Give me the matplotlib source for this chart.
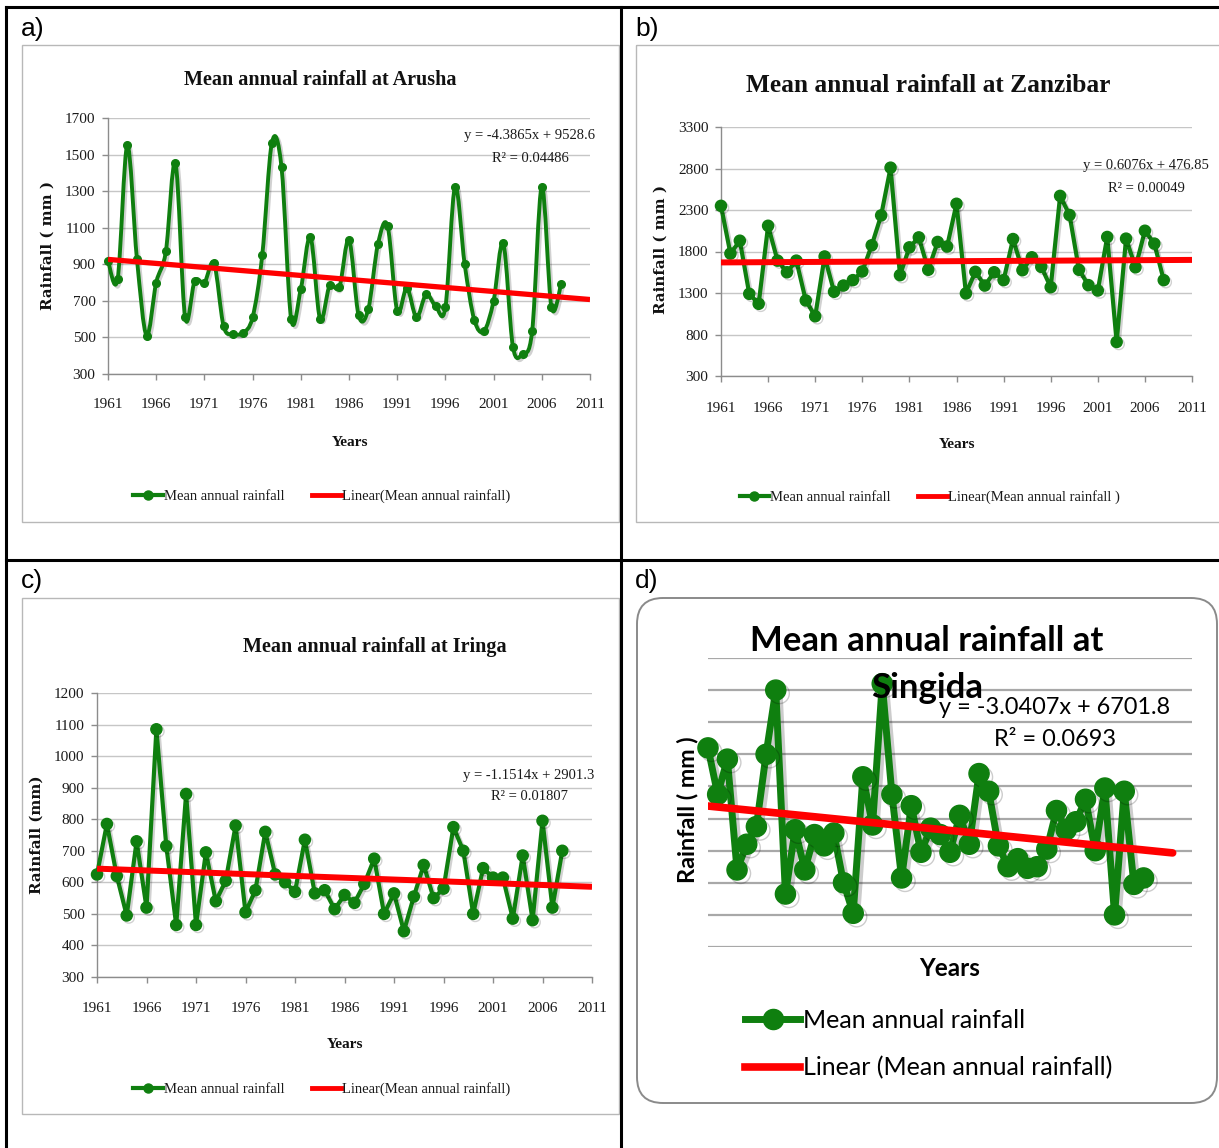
import numpy as np
import matplotlib
matplotlib.use("Agg")
import matplotlib.pyplot as plt
import matplotlib.transforms as mtransforms
import matplotlib.patheffects as pe
from matplotlib.path import Path
from matplotlib.patches import PathPatch, Rectangle, FancyBboxPatch
from matplotlib.lines import Line2D

# ---------------- data ----------------
years_48 = list(range(1961, 2009))
years_46 = list(range(1961, 2007))
year_ticks = list(range(1961, 2012, 5))

rain_arusha = [920, 820, 1550, 930, 510, 800, 970, 1455, 610, 810,
               800, 905, 560, 520, 525, 610, 950, 1565, 1430, 600,
               765, 1050, 600, 785, 775, 1035, 620, 655, 1010, 1110,
               645, 770, 610, 735, 670, 665, 1325, 900, 595, 535,
               700, 1015, 450, 410, 535, 1325, 665, 790]
rain_zanzibar = [2350, 1775, 1930, 1290, 1170, 2110, 1690, 1550, 1690, 1210,
                 1020, 1740, 1315, 1390, 1455, 1560, 1875, 2235, 2810, 1515,
                 1850, 1970, 1580, 1915, 1860, 2375, 1295, 1555, 1390, 1550,
                 1455, 1950, 1575, 1730, 1615, 1370, 2470, 2240, 1580, 1395,
                 1330, 1975, 710, 1955, 1610, 2050, 1895, 1455]
rain_iringa = [625, 785, 620, 495, 730, 520, 1085, 715, 465, 880,
               465, 695, 540, 605, 780, 505, 575, 760, 625, 600,
               570, 735, 565, 575, 515, 560, 535, 595, 675, 500,
               565, 445, 555, 655, 550, 580, 775, 700, 500, 645,
               615, 615, 485, 685, 480, 795, 520, 700]
rain_singida = [920, 775, 885, 540, 620, 675, 900, 1100, 465, 665,
                540, 650, 615, 655, 500, 405, 830, 680, 1120, 775,
                515, 740, 595, 670, 650, 595, 710, 620, 840, 785,
                615, 550, 575, 545, 550, 605, 725, 665, 690, 760,
                600, 795, 400, 785, 495, 515]

# trend-line equations shown on the charts (slope, intercept)
trend_arusha = (-4.3865, 9528.6)
trend_zanzibar = (0.6076, 476.85)
trend_iringa = (-1.1514, 2901.3)
trend_singida = (-3.0407, 6701.8)
trend_span_abc = (1961, 2011)
trend_span_d = (1961, 2009)

yticks_arusha = list(range(300, 1701, 200))
yticks_zanzibar = list(range(300, 3301, 500))
yticks_iringa = list(range(300, 1201, 100))
ygrid_singida = list(range(300, 1201, 100))

eq_texts = ["y = -4.3865x + 9528.6", "y = 0.6076x + 476.85",
            "y = -1.1514x + 2901.3", "y = -3.0407x + 6701.8"]
r2_texts = ["R\u00b2 = 0.04486", "R\u00b2 = 0.00049", "R\u00b2 = 0.01807", "R\u00b2 = 0.0693"]

# ---------------- figure ----------------
W, H = 1219, 1148
fig = plt.figure(figsize=(W / 100, H / 100), dpi=100)
fig.patch.set_facecolor("white")
pxT = mtransforms.Affine2D().scale(1.0 / W, -1.0 / H).translate(0, 1) + fig.transFigure

GREEN = "#0f7f0f"
RED = "#ff0000"
SERIF = "Liberation Serif"
SERIF_B = "DejaVu Serif"
CAL = "Lato"
FS = 10.5


def add_ax(l, t, r, b):
    return fig.add_axes([l / W, 1 - b / H, (r - l) / W, (b - t) / H])


def smooth_path(x, y):
    x = np.asarray(x, float)
    y = np.asarray(y, float)
    n = len(x)
    verts = [(x[0], y[0])]
    codes = [Path.MOVETO]
    for i in range(n - 1):
        x0, y0 = (x[i - 1], y[i - 1]) if i > 0 else (x[i], y[i])
        x3, y3 = (x[i + 2], y[i + 2]) if i + 2 < n else (x[i + 1], y[i + 1])
        c1 = (x[i] + (x[i + 1] - x0) / 6.0, y[i] + (y[i + 1] - y0) / 6.0)
        c2 = (x[i + 1] - (x3 - x[i]) / 6.0, y[i + 1] - (y3 - y[i]) / 6.0)
        verts += [c1, c2, (x[i + 1], y[i + 1])]
        codes += [Path.CURVE4] * 3
    return Path(verts, codes)


shadow = [pe.SimpleLineShadow(offset=(1.5, -1.5), shadow_color="k", alpha=0.18), pe.Normal()]

# ---------------- table lines and chart frames ----------------
for (x0, y0, x1, y1) in [(6, 7, 1219, 7), (6, 7, 6, 1148), (621, 7, 621, 1148), (6, 560, 1219, 560)]:
    fig.add_artist(Line2D([x0, x1], [y0, y1], transform=pxT, color="black", lw=2.2))

for (x0, y0, x1, y1) in [(22, 45, 619, 522), (636, 45, 1222, 522), (22, 598, 619, 1114)]:
    fig.add_artist(Rectangle((x0, y0), x1 - x0, y1 - y0, transform=pxT, fill=False,
                             edgecolor="#b8b8b8", lw=1.0))
fig.add_artist(FancyBboxPatch((637, 598), 580, 505, boxstyle="round,pad=0,rounding_size=26",
                              transform=pxT, fill=False, edgecolor="#8a8a8a", lw=1.4))

for lab, (x, y) in zip(["a)", "b)", "c)", "d)"], [(21, 29), (635, 29), (21, 581), (635, 581)]):
    fig.text(x, y, lab, transform=pxT, fontsize=19, family="Liberation Sans",
             ha="left", va="center")


# ---------------- panels a, b, c ----------------
def style_abc(ax, ymin, ymax, yticks, xpad, ypad):
    ax.set_xlim(1961, 2011)
    ax.set_ylim(ymin, ymax)
    ax.set_xticks(year_ticks)
    ax.set_yticks(yticks)
    for s in ["top", "right"]:
        ax.spines[s].set_visible(False)
    for s in ["left", "bottom"]:
        ax.spines[s].set_color("#8c8c8c")
        ax.spines[s].set_linewidth(1.0)
    ax.yaxis.grid(True, color="#c6c6c6", lw=1.0)
    ax.set_axisbelow(True)
    ax.tick_params(axis="both", direction="out", length=4, width=1, color="#8c8c8c",
                   labelsize=11, labelcolor="#1a1a1a")
    ax.tick_params(axis="x", pad=xpad)
    ax.tick_params(axis="y", pad=ypad)
    for t in ax.get_xticklabels() + ax.get_yticklabels():
        t.set_family(SERIF)
    ax.patch.set_alpha(0)


panels_abc = [
    dict(box=(108, 118, 590, 374), years=years_48, rain=rain_arusha, trend=trend_arusha,
         ylim=(300, 1700), yticks=yticks_arusha, smooth=True, ms=5.5, lw=2.8, tlw=3.8,
         title="Mean annual rainfall at Arusha", tpos=(320, 80), tsize=14.5,
         ylab="Rainfall ( mm )", ylpos=(48, 245), eqpos=(530, 135), r2pos=(530, 158),
         ypos=(350, 443), legpos=(322, 496), leg2="Linear(Mean annual rainfall)", xpad=13),
    dict(box=(721, 127, 1192, 376), years=years_48, rain=rain_zanzibar, trend=trend_zanzibar,
         ylim=(300, 3300), yticks=yticks_zanzibar, smooth=False, ms=8, lw=3.0, tlw=4.3,
         title="Mean annual rainfall at Zanzibar", tpos=(928, 85), tsize=18.3,
         ylab="Rainfall ( mm )", ylpos=(661, 250), eqpos=(1146, 165), r2pos=(1146, 188),
         ypos=(957, 444), legpos=(930, 497), leg2="Linear(Mean annual rainfall )", xpad=15),
    dict(box=(97, 693, 592, 977), years=years_48, rain=rain_iringa, trend=trend_iringa,
         ylim=(300, 1200), yticks=yticks_iringa, smooth=False, ms=8, lw=3.0, tlw=4.3,
         title="Mean annual rainfall at Iringa", tpos=(375, 647), tsize=14.5,
         ylab="Rainfall (mm)", ylpos=(37, 835), eqpos=(529, 775), r2pos=(529, 797),
         ypos=(345, 1044), legpos=(322, 1089), leg2="Linear(Mean annual rainfall)", xpad=14),
]

for i, p in enumerate(panels_abc):
    ax = add_ax(*p["box"])
    style_abc(ax, p["ylim"][0], p["ylim"][1], p["yticks"], p["xpad"], 5)
    if p["smooth"]:
        ax.add_patch(PathPatch(smooth_path(p["years"], p["rain"]), fill=False,
                               edgecolor=GREEN, lw=p["lw"], capstyle="round",
                               joinstyle="round", path_effects=shadow, clip_on=False, zorder=3))
        ax.plot(p["years"], p["rain"], ls="none", marker="o", ms=p["ms"], color=GREEN,
                clip_on=False, zorder=4)
    else:
        ax.plot(p["years"], p["rain"], ls="-", lw=p["lw"], marker="o", ms=p["ms"],
                color=GREEN, clip_on=False, zorder=3, path_effects=shadow,
                solid_joinstyle="round")
    tx = np.array(trend_span_abc, float)
    ax.plot(tx, p["trend"][0] * tx + p["trend"][1], color=RED, lw=p["tlw"],
            solid_capstyle="butt", zorder=5)

    fig.text(*p["tpos"], p["title"], transform=pxT, fontsize=p["tsize"], family=SERIF,
             weight="bold", ha="center", va="center", color="#111111")
    fig.text(*p["ylpos"], p["ylab"], transform=pxT, fontsize=10.8, family=SERIF_B,
             weight="bold", rotation=90, ha="center", va="center", color="#111111")
    fig.text(*p["eqpos"], eq_texts[i], transform=pxT, fontsize=FS, family=SERIF,
             ha="center", va="center", color="#1a1a1a")
    fig.text(*p["r2pos"], r2_texts[i], transform=pxT, fontsize=FS, family=SERIF,
             ha="center", va="center", color="#1a1a1a")
    fig.text(*p["ypos"], "Years", transform=pxT, fontsize=11, family=SERIF,
             weight="bold", ha="center", va="center", color="#111111")
    h1 = Line2D([], [], color=GREEN, lw=3.0, marker="o", ms=6.5)
    h2 = Line2D([], [], color=RED, lw=3.5)
    fig.legend([h1, h2], ["Mean annual rainfall", p["leg2"]], loc="center",
               bbox_to_anchor=p["legpos"], bbox_transform=pxT, ncol=2, frameon=False,
               prop=dict(family=SERIF, size=FS), handlelength=2.0, handletextpad=0.1,
               columnspacing=1.85, borderpad=0, borderaxespad=0, labelcolor="#1a1a1a")

# ---------------- panel d ----------------
axd = add_ax(708, 658, 1192, 947)
axd.set_xlim(1961, 2011)
axd.set_ylim(300, 1200)
axd.set_yticks(ygrid_singida)
axd.set_xticks([])
axd.tick_params(axis="y", length=0, labelleft=False)
for s in axd.spines.values():
    s.set_visible(False)
axd.yaxis.grid(True, color="#a8a8a8", lw=1.6)
axd.set_axisbelow(True)
axd.patch.set_alpha(0)
shadow_d = [pe.SimpleLineShadow(offset=(2.5, -2.5), shadow_color="k", alpha=0.2), pe.Normal()]
axd.plot(years_46, rain_singida, ls="-", lw=5.0, marker="o", ms=14.5, color=GREEN,
         clip_on=False, zorder=3, path_effects=shadow_d, solid_joinstyle="round")
txd = np.array(trend_span_d, float)
axd.plot(txd, trend_singida[0] * txd + trend_singida[1], color=RED, lw=5.5,
         solid_capstyle="round", zorder=5)

fig.text(927, 641, "Mean annual rainfall at", transform=pxT, fontsize=25, family=CAL,
         weight="bold", ha="center", va="center", color="black")
fig.text(927, 688, "Singida", transform=pxT, fontsize=25, family=CAL,
         weight="bold", ha="center", va="center", color="black")
fig.text(1055, 707, eq_texts[3], transform=pxT, fontsize=16.9, family=CAL,
         ha="center", va="center", color="black")
fig.text(1055, 740, r2_texts[3], transform=pxT, fontsize=16.9, family=CAL,
         ha="center", va="center", color="black")
fig.text(688, 810, "Rainfall ( mm )", transform=pxT, fontsize=16.8, family=CAL,
         weight="bold", rotation=90, ha="center", va="center", color="black")
fig.text(950, 969, "Years", transform=pxT, fontsize=17.5, family=CAL,
         weight="bold", ha="center", va="center", color="black")
hd1 = Line2D([], [], color=GREEN, lw=5.0, marker="o", ms=14.5)
hd2 = Line2D([], [], color=RED, lw=5.5)
fig.legend([hd1, hd2], ["Mean annual rainfall", "Linear (Mean annual rainfall)"],
           loc="center left", bbox_to_anchor=(745, 1044), bbox_transform=pxT, ncol=1,
           frameon=False, prop=dict(family=CAL, size=18), handlelength=2.2,
           handletextpad=0.12, labelspacing=0.98, borderpad=0, borderaxespad=0)

fig.savefig("out.png", dpi=100, facecolor="white")
